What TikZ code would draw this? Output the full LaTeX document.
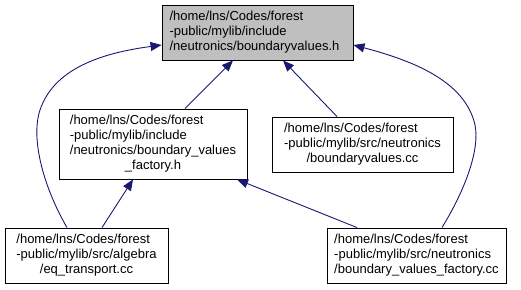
\documentclass[tikz,border=0pt]{standalone}
\usepackage{fontspec}
\setmainfont{Liberation Sans}
\usetikzlibrary{arrows.meta}
\definecolor{edgeblue}{HTML}{191970}
\definecolor{rootfill}{HTML}{BFBFBF}
\begin{document}
\begin{tikzpicture}[x=1pt,y=-1pt,
  filebox/.style={draw=black,line width=0.9pt,fill=white,inner sep=0pt,
    font=\fontsize{13}{15}\selectfont},
  rootbox/.style={filebox,fill=rootfill},
  dep/.style={draw=edgeblue,line width=0.9pt,
    -{Triangle[length=11pt,width=9pt]}}]
\useasboundingbox (0,0) rectangle (521,289);

% header whose dependants are shown
\node[rootbox,minimum width=191pt,minimum height=55pt] (top) at (257.5,32.5)
  {\begin{tabular}{@{}l@{\hspace{6pt}}}/home/lns/Codes/forest\\-public/mylib/include\\/neutronics/boundaryvalues.h\end{tabular}};

% files that include it
\node[filebox,minimum width=188pt,minimum height=70pt] (fh) at (153,144)
  {\begin{tabular}{@{}l@{}}/home/lns/Codes/forest\\-public/mylib/include\\/neutronics/boundary\_values\\\multicolumn{1}{@{}c@{}}{\_factory.h}\end{tabular}};
\node[filebox,minimum width=181pt,minimum height=55pt] (bvcc) at (362.5,144.5)
  {\begin{tabular}{@{}l@{}}/home/lns/Codes/forest\\-public/mylib/src/neutronics\\\multicolumn{1}{@{}c@{}}{/boundaryvalues.cc}\end{tabular}};
\node[filebox,minimum width=163pt,minimum height=55pt] (eq) at (86.5,255.5)
  {\begin{tabular}{@{}l@{}}/home/lns/Codes/forest\\-public/mylib/src/algebra\\\multicolumn{1}{@{}c@{}}{/eq\_transport.cc}\end{tabular}};
\node[filebox,minimum width=179pt,minimum height=55pt] (fcc) at (416.5,255.5)
  {\begin{tabular}{@{}l@{}}/home/lns/Codes/forest\\-public/mylib/src/neutronics\\\multicolumn{1}{@{}c@{}}{/boundary\_values\_factory.cc}\end{tabular}};

% include relations
\draw[dep] ([xshift=32pt]fh.north) -- ([xshift=-24.5pt]top.south);
\draw[dep] ([xshift=-25.5pt]bvcc.north) -- ([xshift=25.5pt]top.south);
\draw[dep] ([xshift=15.5pt]eq.north) -- ([xshift=-20pt]fh.south);
\draw[dep] ([xshift=-59.5pt]fcc.north) -- ([xshift=84pt]fh.south);
\draw[dep] ([xshift=-19.5pt]eq.north)
  .. controls (45,190) and (30,140) .. (40,110)
  .. controls (55,65) and (110,52) .. ([yshift=-12.5pt]top.west);
\draw[dep] ([xshift=25.5pt]fcc.north)
  .. controls (465,190) and (480,150) .. (475,125)
  .. controls (465,80) and (410,60) .. ([yshift=-12.5pt]top.east);
\end{tikzpicture}
\end{document}
